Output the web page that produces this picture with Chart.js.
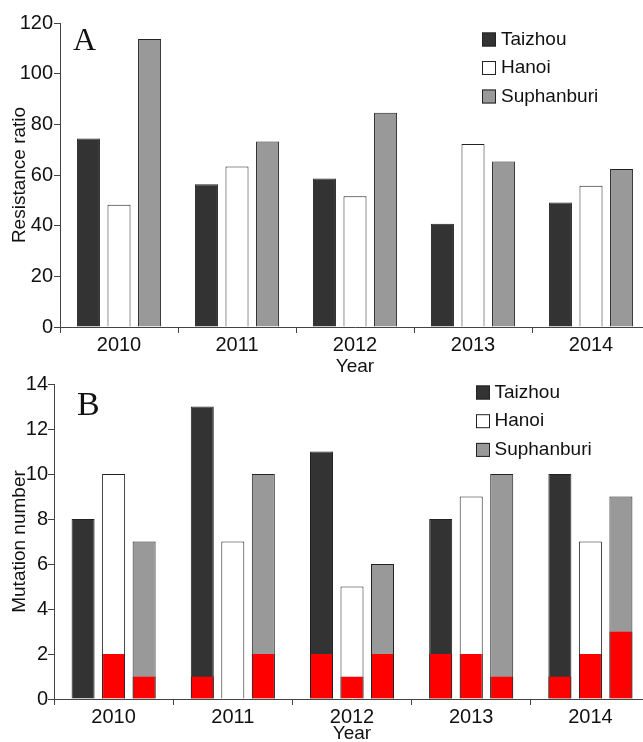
<!DOCTYPE html>
<html>
<head>
<meta charset="utf-8">
<title>Resistance ratio and mutation number</title>
<script src="https://cdn.jsdelivr.net/npm/chart.js@4"></script>
<style>
    html, body { margin: 0; padding: 0; overflow: hidden; background: #fff; }
    #wrap { position: relative; width: 643px; height: 742px; overflow: hidden; }
    canvas { position: absolute; left: 0; }
    #chartA { top: 0; }
    #chartB { top: 360px; }
</style>
</head>
<body>
<div id="wrap">
    <canvas id="chartA" width="650" height="380"></canvas>
    <canvas id="chartB" width="650" height="390"></canvas>
</div>
<script>
const years = ['2010', '2011', '2012', '2013', '2014'];
const sites = ['Taizhou', 'Hanoi', 'Suphanburi'];
const siteColors = ['#333333', '#ffffff', '#999999'];

// panel A: resistance ratio
const ratioTaizhou = [74.4, 56.3, 58.6, 40.8, 49.1];
const ratioHanoi = [48.3, 63.4, 51.6, 72.2, 55.8];
const ratioSuphanburi = [113.7, 73.2, 84.6, 65.3, 62.4];

// panel B: total mutation number and the red part at the bottom of each bar
const mutTaizhou = [8, 13, 11, 8, 10];
const mutHanoi = [10, 7, 5, 9, 7];
const mutSuphanburi = [7, 10, 6, 10, 9];
const redTaizhou = [0, 1, 2, 2, 1];
const redHanoi = [2, 0, 1, 2, 2];
const redSuphanburi = [1, 2, 2, 1, 3];

const ratioMax = 120, ratioStep = 20;
const mutMax = 14, mutStep = 2;

const SANS = '"Liberation Sans", Arial, sans-serif';
const AXIS = '#444444';
const EDGE = '#222222';

Chart.defaults.font.family = SANS;
Chart.defaults.font.size = 19;
Chart.defaults.color = '#111111';

// panel letter + legend drawn inside the plot area
const panelDecor = {
    id: 'panelDecor',
    afterDraw(chart, args, opts) {
        const ctx = chart.ctx;
        ctx.save();
        ctx.fillStyle = '#111111';
        ctx.textBaseline = 'alphabetic';
        ctx.textAlign = 'left';
        ctx.font = opts.letterSize + 'px "Liberation Serif", "Times New Roman", serif';
        ctx.fillText(opts.letter, opts.letterX, opts.letterY);

        ctx.font = '19px ' + SANS;
        ctx.textBaseline = 'middle';
        let y = opts.legendY;
        chart.data.datasets.filter(ds => ds.inLegend !== false).forEach(ds => {
            ctx.fillStyle = ds.backgroundColor;
            ctx.fillRect(opts.legendX, y - 7, 14, 14);
            ctx.strokeStyle = EDGE;
            ctx.lineWidth = 1;
            ctx.strokeRect(opts.legendX + 0.5, y - 6.5, 13, 13);
            ctx.fillStyle = '#111111';
            ctx.fillText(ds.label, opts.legendX + opts.textGap, y);
            y += opts.rowStep;
        });
        ctx.restore();
    }
};

document.addEventListener('DOMContentLoaded', function() {
    initRatioChart();
    initMutationChart();
});

function axisScales(opts) {
    return {
        x: {
            stacked: opts.stacked,
            grid: { offset: true, drawOnChartArea: false, tickLength: 6, color: AXIS },
            border: { color: AXIS, width: 1 },
            ticks: { padding: opts.xPad, font: { size: 20 } },
            title: {
                display: true,
                text: 'Year',
                padding: { top: 0, bottom: opts.titlePad }
            },
            afterFit: function(scale) { scale.height = opts.xHeight; }
        },
        y: {
            stacked: false,
            min: 0,
            max: opts.max,
            grid: { drawOnChartArea: false, tickLength: 6, color: AXIS },
            border: { color: AXIS, width: 1 },
            ticks: { stepSize: opts.step, padding: opts.yPad, font: { size: 20 } },
            title: {
                display: true,
                text: opts.yTitle,
                padding: { top: 8, bottom: 0 }
            },
            afterFit: function(scale) { scale.width = opts.yWidth; }
        }
    };
}

function initRatioChart() {
    const ctx = document.getElementById('chartA').getContext('2d');
    const values = [ratioTaizhou, ratioHanoi, ratioSuphanburi];

    new Chart(ctx, {
        type: 'bar',
        data: {
            labels: years,
            datasets: sites.map((site, i) => ({
                label: site,
                data: values[i],
                backgroundColor: siteColors[i],
                borderColor: EDGE,
                borderWidth: 1,
                categoryPercentage: 0.777,
                barPercentage: 0.754
            }))
        },
        options: {
            responsive: false,
            animation: false,
            layout: { padding: { top: 23, left: 0, right: 0, bottom: 0 } },
            scales: axisScales({
                stacked: false, max: ratioMax, step: ratioStep,
                yTitle: 'Resistance ratio', yWidth: 60, xHeight: 53,
                xPad: 0.5, yPad: 1, titlePad: 1.5
            }),
            plugins: {
                legend: { display: false },
                tooltip: { enabled: false },
                panelDecor: {
                    letter: 'A', letterSize: 32, letterX: 73, letterY: 50,
                    legendX: 482, legendY: 39.5, rowStep: 28.5, textGap: 19
                }
            }
        },
        plugins: [panelDecor]
    });
}

function initMutationChart() {
    const ctx = document.getElementById('chartB').getContext('2d');
    const totals = [mutTaizhou, mutHanoi, mutSuphanburi];
    const reds = [redTaizhou, redHanoi, redSuphanburi];

    const totalSets = sites.map((site, i) => ({
        label: site,
        data: totals[i],
        stack: site,
        order: 1,
        backgroundColor: siteColors[i],
        borderColor: EDGE,
        borderWidth: 1,
        categoryPercentage: 0.768,
        barPercentage: 0.754
    }));
    const redSets = sites.map((site, i) => ({
        label: site + ' (red)',
        data: reds[i],
        stack: site,
        order: 0,
        inLegend: false,
        backgroundColor: '#ff0000',
        borderColor: EDGE,
        borderWidth: { left: 1, right: 1, top: 0, bottom: 0 },
        categoryPercentage: 0.768,
        barPercentage: 0.754
    }));

    new Chart(ctx, {
        type: 'bar',
        data: {
            labels: years,
            datasets: totalSets.concat(redSets)
        },
        options: {
            responsive: false,
            animation: false,
            layout: { padding: { top: 24, left: 0, right: 0, bottom: 0 } },
            scales: axisScales({
                stacked: true, max: mutMax, step: mutStep,
                yTitle: 'Mutation number', yWidth: 54, xHeight: 51,
                xPad: 0, yPad: 0, titlePad: 4.5
            }),
            plugins: {
                legend: { display: false },
                tooltip: { enabled: false },
                panelDecor: {
                    letter: 'B', letterSize: 34, letterX: 77, letterY: 55,
                    legendX: 476, legendY: 32.5, rowStep: 28.7, textGap: 18.5
                }
            }
        },
        plugins: [panelDecor]
    });
}
</script>
</body>
</html>
